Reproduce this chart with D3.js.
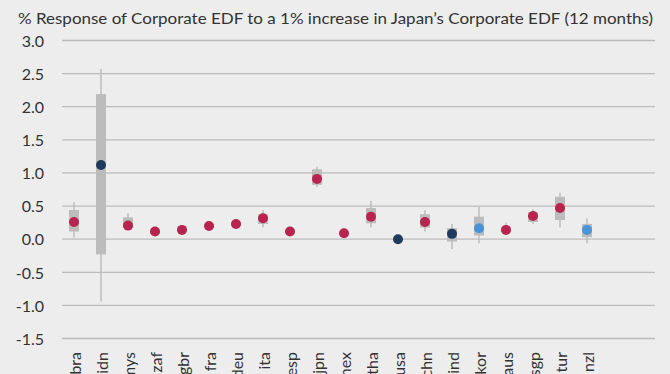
<!DOCTYPE html>
<html>
<head>
<meta charset="utf-8">
<script src="https://cdn.jsdelivr.net/npm/d3@7"></script>
<style>
html,body{margin:0;padding:0;background:#ededed;}
svg{display:block;}
text{font-family:Lato,"Open Sans",sans-serif;fill:#333;}
</style>
</head>
<body>
<svg id="chart" width="670" height="374"></svg>
<script>
const titleText = "% Response of Corporate EDF to a 1% increase in Japan\u2019s Corporate EDF (12 months)";
const categories = ["bra","idn","mys","zaf","gbr","fra","deu","ita","esp","jpn","mex","tha","usa","chn","ind","kor","aus","sgp","tur","nzl"];
const pointValues = [0.26,1.12,0.205,0.115,0.14,0.20,0.23,0.317,0.115,0.91,0.09,0.34,0.0,0.26,0.08,0.166,0.14,0.35,0.47,0.14];
const boxLow  = [0.115,-0.23,0.17,0.09,0.12,0.18,0.20,0.23,0.10,0.82,0.07,0.24,-0.01,0.175,-0.036,0.055,0.11,0.26,0.29,0.03];
const boxHigh = [0.44,2.19,0.33,0.14,0.16,0.23,0.26,0.377,0.13,1.056,0.11,0.47,0.01,0.377,0.166,0.34,0.17,0.41,0.64,0.23];
const whiskerLow  = [0.025,-0.94,0.15,0.09,0.12,0.17,0.19,0.175,0.10,0.79,0.07,0.175,-0.01,0.115,-0.15,-0.06,0.075,0.23,0.175,-0.06];
const whiskerHigh = [0.56,2.57,0.39,0.14,0.16,0.24,0.27,0.44,0.13,1.095,0.11,0.58,0.01,0.44,0.23,0.49,0.25,0.45,0.70,0.317];
const groups = ["em","us_id","em","em","em","em","em","em","em","em","em","em","us_id","em","us_id","kr_nz","em","em","em","kr_nz"];
const yTicks = [-1.5,-1.0,-0.5,0.0,0.5,1.0,1.5,2.0,2.5,3.0];

const colorMap = {em:"#b8234f", us_id:"#1e3a5c", kr_nz:"#4b93d6"};

const svg = d3.select("#chart");
const x = d3.scaleBand().domain(categories).range([60.5, 600.5]).padding(0);
const y = d3.scaleLinear().domain([-1.5, 3.0]).range([338.5, 40.5]);

// title
const title = svg.append("text").attr("x", 18).attr("y", 24)
  .style("font-size", "16px").text(titleText);
const tw = title.node().getComputedTextLength();
if (tw > 0) title.attr("textLength", 635).attr("lengthAdjust", "spacingAndGlyphs");

// gridlines
const gridX0 = 62, gridX1 = 655;
svg.append("g").selectAll("line").data(yTicks).join("line")
  .attr("x1", gridX0).attr("x2", gridX1)
  .attr("y1", d => y(d)).attr("y2", d => y(d))
  .attr("stroke", "#bcbcbc").attr("stroke-width", 1.3);

// y axis labels
const yAxis = d3.axisLeft(y).tickValues(yTicks).tickFormat(d3.format(".1f")).tickSize(0).tickPadding(0);
const yg = svg.append("g").attr("transform", "translate(44,0)").call(yAxis);
yg.select(".domain").remove();
yg.selectAll("text").style("font-size", "16px").style("font-family", "Lato, 'Open Sans', sans-serif").attr("fill", "#333").attr("dy", "0.36em")
  .text(d => d3.format(".1f")(d).replace("\u2212","-"));

const data = categories.map((c, i) => ({
  c, p: pointValues[i], bl: boxLow[i], bh: boxHigh[i], wl: whiskerLow[i], wh: whiskerHigh[i], g: groups[i]
}));
const cx = d => x(d.c) + x.bandwidth() / 2;
const boxW = 10;

// whiskers
svg.append("g").selectAll("line").data(data).join("line")
  .attr("x1", cx).attr("x2", cx)
  .attr("y1", d => y(d.wh)).attr("y2", d => y(d.wl))
  .attr("stroke", "#bdbdbd").attr("stroke-width", 1.5);

// boxes
svg.append("g").selectAll("rect").data(data).join("rect")
  .attr("x", d => cx(d) - boxW / 2).attr("width", boxW)
  .attr("y", d => y(d.bh)).attr("height", d => Math.max(1, y(d.bl) - y(d.bh)))
  .attr("fill", "#bbbcbb");

// points
svg.append("g").selectAll("circle").data(data).join("circle")
  .attr("cx", cx).attr("cy", d => y(d.p)).attr("r", 5)
  .attr("fill", d => colorMap[d.g]);

// x labels (rotated)
svg.append("g").selectAll("text").data(data).join("text")
  .attr("transform", d => `translate(${cx(d) + 7},352) rotate(-90)`)
  .attr("text-anchor", "end")
  .style("font-size", "16px")
  .text(d => d.c);
</script>
</body>
</html>
